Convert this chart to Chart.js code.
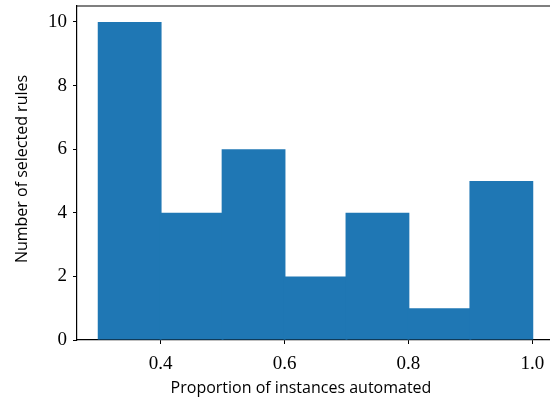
<!DOCTYPE html>
<html>
<head>
<meta charset="utf-8">
<script src="https://cdn.jsdelivr.net/npm/chart.js@4"></script>
<style>
  html, body { margin: 0; padding: 0; background: #fff; overflow: hidden; }
  #wrap { width: 550px; height: 399px; overflow: hidden; }
</style>
</head>
<body>
<div id="wrap"><canvas id="histChart" width="560" height="399"></canvas></div>
<script>
// histogram bins and counts
const binEdges = [0.3, 0.4, 0.5, 0.6, 0.7, 0.8, 0.9, 1.0];
const counts = [10, 4, 6, 2, 4, 1, 5];
const xTicks = [0.4, 0.6, 0.8, 1.0];
const yTicks = [0, 2, 4, 6, 8, 10];
const xLabel = "Proportion of instances automated";
const yLabel = "Number of selected rules";

const bars = counts.map((c, i) => ({ x: (binEdges[i] + binEdges[i + 1]) / 2, y: c }));

const tickFont = { family: "'Liberation Serif', 'DejaVu Serif', serif", size: 19 };
const labelFont = "16px 'Open Sans', 'DejaVu Sans', sans-serif";

// top spine + axis labels
const extras = {
  id: "extras",
  afterDraw(chart) {
    const ctx = chart.ctx;
    const area = chart.chartArea;
    ctx.save();
    ctx.strokeStyle = "#000";
    ctx.lineWidth = 1.2;
    ctx.beginPath();
    ctx.moveTo(area.left, area.top);
    ctx.lineTo(area.right, area.top);
    ctx.stroke();

    ctx.fillStyle = "#000";
    ctx.font = labelFont;
    ctx.textAlign = "center";
    ctx.textBaseline = "alphabetic";
    ctx.fillText(xLabel, 301, 393);

    ctx.translate(27, 169);
    ctx.rotate(-Math.PI / 2);
    ctx.fillText(yLabel, 0, 0);
    ctx.restore();
  }
};

new Chart(document.getElementById("histChart").getContext("2d"), {
  type: "bar",
  data: {
    datasets: [{
      data: bars,
      backgroundColor: "#1f77b4",
      borderWidth: 0,
      inflateAmount: 0,
      barPercentage: 1.03,
      categoryPercentage: 1
    }]
  },
  options: {
    responsive: false,
    animation: false,
    layout: { padding: { top: 6, right: 6, left: 0, bottom: 0 } },
    plugins: { legend: { display: false }, tooltip: { enabled: false } },
    scales: {
      x: {
        type: "linear",
        offset: false,
        min: 0.265,
        max: 1.035,
        afterBuildTicks: s => { s.ticks = xTicks.map(v => ({ value: v })); },
        afterFit: s => { s.height = 59; s.paddingLeft = 0; s.paddingRight = 0; },
        ticks: {
          color: "#000",
          font: tickFont,
          padding: 9,
          maxRotation: 0,
          callback: v => v.toFixed(1)
        },
        grid: { drawOnChartArea: false, offset: false, tickLength: 4, tickColor: "#000", tickWidth: 1 },
        border: { color: "#000", width: 1.2 }
      },
      y: {
        min: 0,
        max: 10.5,
        afterBuildTicks: s => { s.ticks = yTicks.map(v => ({ value: v })); },
        afterFit: s => { s.width = 77; s.paddingTop = 0; s.paddingBottom = 0; },
        ticks: { color: "#000", font: tickFont, padding: 6 },
        grid: { drawOnChartArea: false, tickLength: 4, tickColor: "#000", tickWidth: 1 },
        border: { color: "#000", width: 1.2 }
      }
    }
  },
  plugins: [extras]
});
</script>
</body>
</html>
